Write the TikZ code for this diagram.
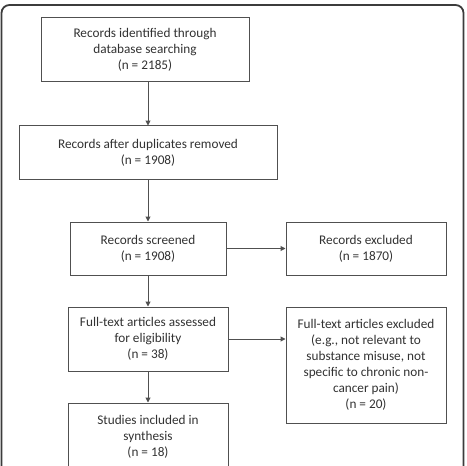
\documentclass[tikz,border=0pt]{standalone}
\usepackage{fontspec}
\setmainfont{Carlito}
\usepackage{tikz}
\usetikzlibrary{arrows.meta}
\definecolor{framegray}{RGB}{60, 60, 60}
\definecolor{linegray}{RGB}{80, 80, 80}
\definecolor{textgray}{RGB}{50, 50, 50}

\tikzset{
  flowbox/.style={
    draw=linegray,
    line width=1pt,
    fill=white,
    align=center,
    text=textgray,
    inner sep=2pt,
    font=\fontsize{13.3}{16}\selectfont
  },
  flowarrow/.style={
    draw=linegray,
    line width=1pt,
    -{Triangle[length=5pt,width=5pt]}
  }
}

\begin{document}
\begin{tikzpicture}[x=1bp, y=-1bp]
  \useasboundingbox (0,0) rectangle (467,466);
  \clip (0,0) rectangle (467,466);
  % outer frame, cut off at the bottom
  \draw[framegray, line width=1.8pt, rounded corners=8pt] (1.5,5) rectangle (463.5,490);

  % main column
  \node[flowbox, minimum width=208bp, minimum height=64bp] (identified) at (145,50)
    {Records identified through\\ database searching\\ (n = 2185)};
  \node[flowbox, minimum width=258bp, minimum height=53bp] (deduped) at (148,152.5)
    {Records after duplicates removed\\ (n = 1908)};
  \node[flowbox, minimum width=156bp, minimum height=53bp] (screened) at (148,248.5)
    {Records screened\\ (n = 1908)};
  \node[flowbox, minimum width=160bp, minimum height=64bp] (fulltext) at (148,339)
    {Full-text articles assessed\\ for eligibility\\ (n = 38)};
  \node[flowbox, minimum width=160bp, minimum height=68bp] (included) at (148,437)
    {Studies included in\\ synthesis\\ (n = 18)};

  % exclusions
  \node[flowbox, minimum width=160bp, minimum height=116bp] (ftexcluded) at (366,365)
    {Full-text articles excluded\\ (e.g., not relevant to\\ substance misuse, not\\ specific to chronic non-\\ cancer pain)\\ (n = 20)};
  \node[flowbox, minimum width=160bp, minimum height=53bp] (excluded) at (366,248.5)
    {Records excluded\\ (n = 1870)};

  % connectors
  \draw[flowarrow] (identified.south -| deduped.north) -- (deduped.north);
  \draw[flowarrow] (deduped) -- (screened);
  \draw[flowarrow] (screened) -- (fulltext);
  \draw[flowarrow] (fulltext) -- (included);
  \draw[flowarrow] (screened) -- (excluded);
  \draw[flowarrow] (fulltext.east) -- (fulltext.east -| ftexcluded.west);
\end{tikzpicture}
\end{document}
